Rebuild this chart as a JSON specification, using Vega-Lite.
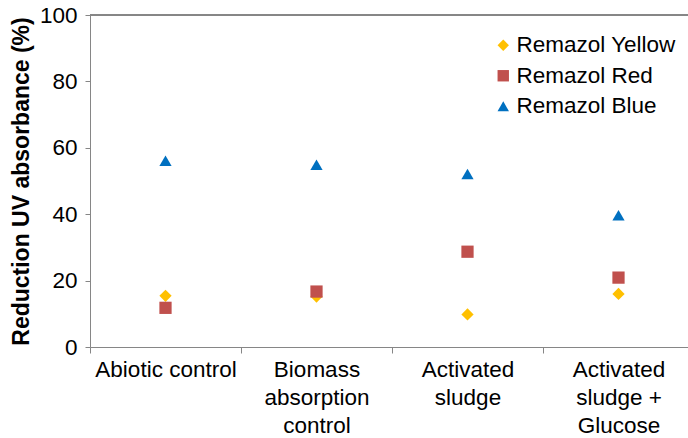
{
  "$schema": "https://vega.github.io/schema/vega-lite/v6.json",
  "width": 598,
  "height": 332,
  "autosize": {"type": "none"},
  "padding": {"left": 90, "top": 15, "right": 0, "bottom": 91},
  "background": "white",
  "config": {
    "view": {"stroke": null},
    "font": "Liberation Sans",
    "axis": {"labelFont": "Liberation Sans", "titleFont": "Liberation Sans", "labelColor": "#000000", "titleColor": "#000000", "domainColor": "#868686", "tickColor": "#868686", "grid": false}
  },
  "data": {
    "values": [
      {"treatment": "Abiotic control", "dye": "Remazol Yellow", "reduction": 15.4},
      {"treatment": "Biomass absorption control", "dye": "Remazol Yellow", "reduction": 15.2},
      {"treatment": "Activated sludge", "dye": "Remazol Yellow", "reduction": 9.8},
      {"treatment": "Activated sludge + Glucose", "dye": "Remazol Yellow", "reduction": 16.0},
      {"treatment": "Abiotic control", "dye": "Remazol Red", "reduction": 11.8},
      {"treatment": "Biomass absorption control", "dye": "Remazol Red", "reduction": 16.7},
      {"treatment": "Activated sludge", "dye": "Remazol Red", "reduction": 28.7},
      {"treatment": "Activated sludge + Glucose", "dye": "Remazol Red", "reduction": 20.9},
      {"treatment": "Abiotic control", "dye": "Remazol Blue", "reduction": 56.1},
      {"treatment": "Biomass absorption control", "dye": "Remazol Blue", "reduction": 54.9},
      {"treatment": "Activated sludge", "dye": "Remazol Blue", "reduction": 52.1},
      {"treatment": "Activated sludge + Glucose", "dye": "Remazol Blue", "reduction": 39.7}
    ]
  },
  "layer": [
    {
      "mark": {"type": "rule", "color": "#868686", "strokeWidth": 1},
      "encoding": {"y": {"datum": 100, "type": "quantitative", "scale": {"domain": [0, 100]}}}
    },
    {
      "mark": {"type": "point", "filled": true, "opacity": 1, "size": 150},
      "encoding": {
        "x": {
          "field": "treatment",
          "type": "nominal",
          "sort": ["Abiotic control", "Biomass absorption control", "Activated sludge", "Activated sludge + Glucose"],
          "scale": {"range": [0, 604], "paddingInner": 0, "paddingOuter": 0},
          "axis": {
            "title": null,
            "labelAngle": 0,
            "labelFontSize": 22.5,
            "labelPadding": 5,
            "labelLineHeight": 28,
            "labelBaseline": "top",
            "tickBand": "extent",
            "tickSize": 6,
            "labelLimit": 250,
            "labelExpr": "datum.label == 'Biomass absorption control' ? ['Biomass', 'absorption', 'control'] : datum.label == 'Activated sludge' ? ['Activated', 'sludge'] : datum.label == 'Activated sludge + Glucose' ? ['Activated', 'sludge +', 'Glucose'] : datum.label"
          }
        },
        "y": {
          "field": "reduction",
          "type": "quantitative",
          "scale": {"domain": [0, 100], "nice": false},
          "axis": {
            "title": "Reduction UV absorbance (%)",
            "titleFontSize": 23,
            "titleFontWeight": "bold",
            "titlePadding": 6,
            "labelFontSize": 22.5,
            "labelPadding": 8,
            "tickSize": 5,
            "values": [0, 20, 40, 60, 80, 100]
          }
        },
        "color": {
          "field": "dye",
          "type": "nominal",
          "scale": {"domain": ["Remazol Yellow", "Remazol Red", "Remazol Blue"], "range": ["#FFC000", "#C0504D", "#0070C0"]},
          "legend": {
            "title": null,
            "orient": "none",
            "legendX": 402,
            "legendY": 19,
            "labelFontSize": 22.5,
            "labelFont": "Liberation Sans",
            "labelColor": "#000000",
            "symbolSize": 130,
            "labelOffset": 2,
            "rowPadding": 7.5,
            "padding": 0
          }
        },
        "shape": {
          "field": "dye",
          "type": "nominal",
          "scale": {"domain": ["Remazol Yellow", "Remazol Red", "Remazol Blue"], "range": ["diamond", "square", "triangle-up"]},
          "legend": null
        }
      }
    }
  ]
}
